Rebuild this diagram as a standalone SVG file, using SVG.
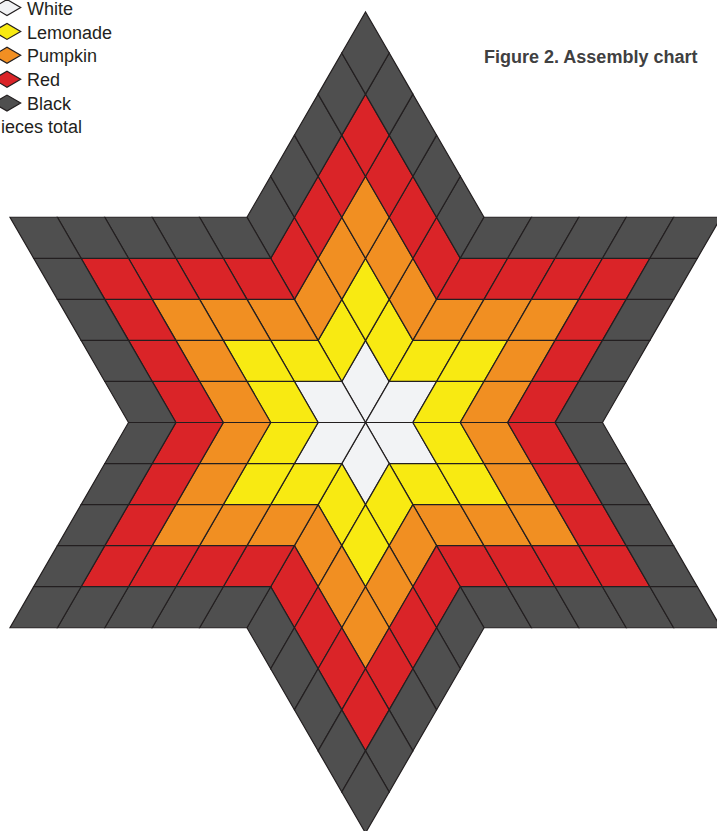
<svg xmlns="http://www.w3.org/2000/svg" xmlns:xlink="http://www.w3.org/1999/xlink" width="717" height="831" viewBox="0 0 717 831">
<style>
  .pc { stroke: #231f20; stroke-width: 1.2; stroke-linejoin: miter; }
  .w { fill: #f2f3f5; }
  .y { fill: #f8ea12; }
  .o { fill: #f18f22; }
  .r { fill: #da2428; }
  .b { fill: #4f4f4f; }
  .lg { font-family: "Liberation Sans", Arial, sans-serif; font-size: 18px; fill: #231f20; }
  .title { font-family: "Liberation Sans", Arial, sans-serif; font-size: 18px; font-weight: bold; fill: #404041; }
</style>
<defs>
  <path id="d" d="M0,0 L23.7,-41.05 L0,-82.1 L-23.7,-41.05 Z"/>
  <g id="arm" class="pc">
    <use href="#d" xlink:href="#d" class="w" x="0" y="0"/>
    <use href="#d" xlink:href="#d" class="y" x="23.7" y="-41.05"/>
    <use href="#d" xlink:href="#d" class="y" x="-23.7" y="-41.05"/>
    <use href="#d" xlink:href="#d" class="y" x="0" y="-82.1"/>
    <use href="#d" xlink:href="#d" class="o" x="47.4" y="-82.1"/>
    <use href="#d" xlink:href="#d" class="o" x="-47.4" y="-82.1"/>
    <use href="#d" xlink:href="#d" class="o" x="23.7" y="-123.15"/>
    <use href="#d" xlink:href="#d" class="o" x="-23.7" y="-123.15"/>
    <use href="#d" xlink:href="#d" class="o" x="0" y="-164.2"/>
    <use href="#d" xlink:href="#d" class="r" x="71.1" y="-123.15"/>
    <use href="#d" xlink:href="#d" class="r" x="-71.1" y="-123.15"/>
    <use href="#d" xlink:href="#d" class="r" x="47.4" y="-164.2"/>
    <use href="#d" xlink:href="#d" class="r" x="-47.4" y="-164.2"/>
    <use href="#d" xlink:href="#d" class="r" x="23.7" y="-205.25"/>
    <use href="#d" xlink:href="#d" class="r" x="-23.7" y="-205.25"/>
    <use href="#d" xlink:href="#d" class="r" x="0" y="-246.3"/>
    <use href="#d" xlink:href="#d" class="b" x="94.8" y="-164.2"/>
    <use href="#d" xlink:href="#d" class="b" x="-94.8" y="-164.2"/>
    <use href="#d" xlink:href="#d" class="b" x="71.1" y="-205.25"/>
    <use href="#d" xlink:href="#d" class="b" x="-71.1" y="-205.25"/>
    <use href="#d" xlink:href="#d" class="b" x="47.4" y="-246.3"/>
    <use href="#d" xlink:href="#d" class="b" x="-47.4" y="-246.3"/>
    <use href="#d" xlink:href="#d" class="b" x="23.7" y="-287.35"/>
    <use href="#d" xlink:href="#d" class="b" x="-23.7" y="-287.35"/>
    <use href="#d" xlink:href="#d" class="b" x="0" y="-328.4"/>
  </g>
</defs>

<g id="star" transform="translate(365.5,422.5)">
  <g id="point-top"><use href="#arm" xlink:href="#arm"/></g>
  <g id="point-upper-right"><use href="#arm" xlink:href="#arm" transform="rotate(60)"/></g>
  <g id="point-lower-right"><use href="#arm" xlink:href="#arm" transform="rotate(120)"/></g>
  <g id="point-bottom"><use href="#arm" xlink:href="#arm" transform="rotate(180)"/></g>
  <g id="point-lower-left"><use href="#arm" xlink:href="#arm" transform="rotate(240)"/></g>
  <g id="point-upper-left"><use href="#arm" xlink:href="#arm" transform="rotate(300)"/></g>
</g>

<g id="legend">
  <g id="legend-white">
    <polygon class="pc w" points="-6.7,7.5 7,-0.5 20.7,7.5 7,15.5"/>
    <text class="lg" x="27" y="15">White</text>
  </g>
  <g id="legend-lemonade">
    <polygon class="pc y" points="-6.7,31.4 7,23.4 20.7,31.4 7,39.4"/>
    <text class="lg" x="27" y="38.5">Lemonade</text>
  </g>
  <g id="legend-pumpkin">
    <polygon class="pc o" points="-6.7,55.3 7,47.3 20.7,55.3 7,63.3"/>
    <text class="lg" x="27" y="62">Pumpkin</text>
  </g>
  <g id="legend-red">
    <polygon class="pc r" points="-6.7,79.2 7,71.2 20.7,79.2 7,87.2"/>
    <text class="lg" x="27" y="85.5">Red</text>
  </g>
  <g id="legend-black">
    <polygon class="pc b" points="-6.7,103.1 7,95.1 20.7,103.1 7,111.1"/>
    <text class="lg" x="27" y="109.5">Black</text>
  </g>
  <text class="lg" x="1" y="133">ieces total</text>
</g>

<text id="title" class="title" x="484" y="63">Figure 2. Assembly chart</text>
</svg>
